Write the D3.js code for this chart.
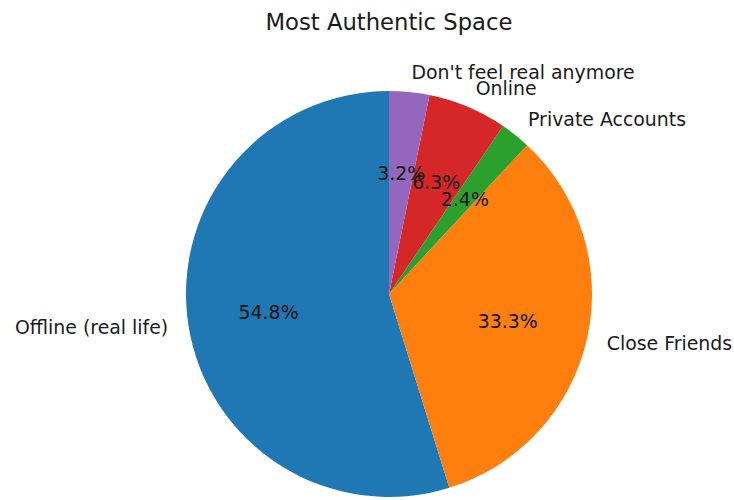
<!DOCTYPE html>
<html>
<head>
<meta charset="utf-8">
<script src="https://cdn.jsdelivr.net/npm/d3@7"></script>
<style>
  html, body { margin: 0; padding: 0; background: #fff; }
  svg { display: block; font-family: "DejaVu Sans", sans-serif; }
</style>
</head>
<body>
<svg id="chart" width="734" height="500"></svg>
<script>
// Survey answers: which space feels most authentic (share of respondents, %)
const categories = ["Offline (real life)", "Close Friends", "Private Accounts", "Online", "Don't feel real anymore"];
const shares = [54.8, 33.3, 2.4, 6.3, 3.2];
const colors = ["#1f77b4", "#ff7f0e", "#2ca02c", "#d62728", "#9467bd"];
const title = "Most Authentic Space";

const svg = d3.select("#chart");
const cx = 389, cy = 294, R = 203;
const labelFont = 18.9, titleFont = 22.7;

const data = categories.map((c, i) => ({ name: c, value: shares[i], color: colors[i] }));

// Wedges start at 12 o'clock and run counter-clockwise
const pie = d3.pie().sort(null).value(d => d.value)
  .startAngle(0).endAngle(-2 * Math.PI);
const arcs = pie(data);
const arc = d3.arc().innerRadius(0).outerRadius(R);

const g = svg.append("g").attr("transform", `translate(${cx},${cy})`);

g.selectAll("path.slice")
  .data(arcs)
  .join("path")
  .attr("class", "slice")
  .attr("d", arc)
  .attr("fill", d => d.data.color);

const mid = d => (d.startAngle + d.endAngle) / 2;
const px = (d, k) => Math.sin(mid(d)) * R * k;
const py = (d, k) => -Math.cos(mid(d)) * R * k;

// Category labels just outside the rim
g.selectAll("text.cat")
  .data(arcs)
  .join("text")
  .attr("class", "cat")
  .attr("x", d => px(d, 1.1))
  .attr("y", d => py(d, 1.1))
  .attr("dy", "0.36em")
  .attr("text-anchor", d => px(d, 1.1) > 0 ? "start" : "end")
  .attr("font-size", labelFont)
  .attr("fill", "#1a1a1a")
  .text(d => d.data.name);

// Percentage labels inside each wedge
g.selectAll("text.pct")
  .data(arcs)
  .join("text")
  .attr("class", "pct")
  .attr("x", d => px(d, 0.6))
  .attr("y", d => py(d, 0.6))
  .attr("dy", "0.36em")
  .attr("text-anchor", "middle")
  .attr("font-size", labelFont)
  .attr("fill", "#111")
  .text(d => d.data.value.toFixed(1) + "%");

svg.append("text")
  .attr("x", cx)
  .attr("y", 30)
  .attr("text-anchor", "middle")
  .attr("font-size", titleFont)
  .attr("fill", "#1a1a1a")
  .text(title);
</script>
</body>
</html>
